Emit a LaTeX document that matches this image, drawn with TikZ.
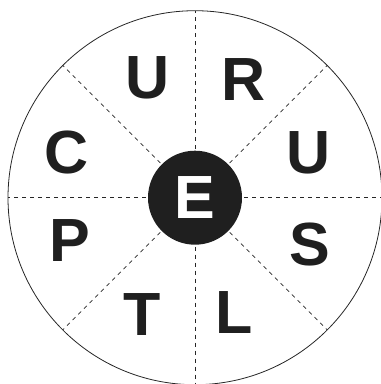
\documentclass[tikz,border=0pt]{standalone}
\usepackage{fontspec}
\setmainfont{Liberation Sans}
\begin{document}
\begin{tikzpicture}[x=1pt,y=-1pt,
  letter/.style={font=\fontsize{61}{61}\selectfont\bfseries, inner sep=0pt, text=black!88},
  spoke/.style={draw=black!85, line width=0.7pt, dash pattern=on 4pt off 4pt},
  rim/.style={draw=black!85, line width=0.8pt}]
\useasboundingbox (0,0) rectangle (381,384);
\clip (0,0) rectangle (381,384);
\node[circle, fill=black!88, minimum size=94pt, inner sep=0pt] (e) at (195,197.7) {};
\node[letter, text=white] (le) at (195,198) {E};
\node[circle, rim, minimum size=374pt, inner sep=0pt] (rim) at (195,197.7) {};
\foreach \a in {0,45,...,315}{
  \path (e.center) ++(\a:49) coordinate (i\a);
  \path (e.center) ++(\a:187) coordinate (o\a);
  \draw[spoke] (i\a) -- (o\a);
}
\node[letter] (u1) at (147.5,77.5) {U};
\node[letter] (r) at (244,79.5) {R};
\node[letter] (c) at (67,152) {C};
\node[letter] (u2) at (309,152.5) {U};
\node[letter] (p) at (70,241) {P};
\node[letter] (s) at (310,244) {S};
\node[letter] (t) at (142.5,315) {T};
\node[letter] (l) at (234,313) {L};
\end{tikzpicture}
\end{document}
